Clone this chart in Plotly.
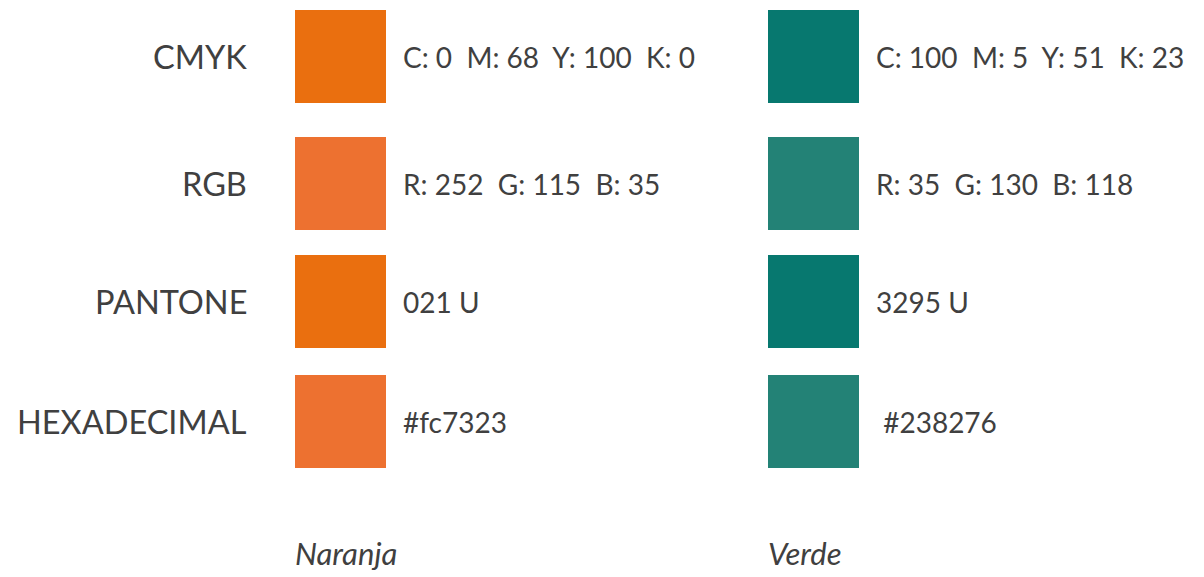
import plotly.graph_objects as go

# --- data ---
row_labels = ["CMYK", "RGB", "PANTONE", "HEXADECIMAL"]
col_names = ["Naranja", "Verde"]
swatch_colors = {
    "Naranja": ["#EA6F0F", "#ED7130", "#EA6F0F", "#ED7130"],
    "Verde": ["#07786F", "#238276", "#07786F", "#238276"],
}
value_texts = {
    "Naranja": ["C: 0  M: 68  Y: 100  K: 0", "R: 252  G: 115  B: 35", "021 U", "#fc7323"],
    "Verde": ["C: 100  M: 5  Y: 51  K: 23", "R: 35  G: 130  B: 118", "3295 U", " #238276"],
}

# --- layout constants (pixels, page coordinates) ---
W, H = 1204, 577
OFF = 8  # page body margin
row_y = [56.5, 183.5, 301.5, 421.5]
col_x0 = {"Naranja": 295, "Verde": 768}
sw_w, sw_h = 91, 93
text_dx = 106
label_x = 249
name_y = 553
txt_color = "#404040"
font = "Lato"

fig = go.Figure()
fig.add_trace(go.Scatter(x=[OFF, W], y=[OFF, H], mode="markers", marker=dict(opacity=0), hoverinfo="skip", showlegend=False))

for i, lab in enumerate(row_labels):
    fig.add_annotation(x=label_x, y=row_y[i], text=lab, showarrow=False, xanchor="right", yanchor="middle",
                       font=dict(family=font, size=32.5, color=txt_color))
    for c in col_names:
        x0 = col_x0[c]
        fig.add_shape(type="rect", x0=x0, x1=x0 + sw_w, y0=row_y[i] - sw_h / 2, y1=row_y[i] + sw_h / 2,
                      fillcolor=swatch_colors[c][i], line=dict(width=0), layer="below")
        fig.add_annotation(x=x0 + text_dx, y=row_y[i], text=value_texts[c][i].replace(" ", "&nbsp;"), showarrow=False,
                           xanchor="left", yanchor="middle", font=dict(family=font, size=28, color=txt_color))

for c in col_names:
    fig.add_annotation(x=col_x0[c] - 2, y=name_y, text="<i>" + c + "</i>", showarrow=False, xanchor="left", yanchor="middle",
                       font=dict(family=font, size=31, color=txt_color))

fig.update_layout(
    width=W, height=H, margin=dict(l=0, r=0, t=0, b=0),
    paper_bgcolor="white", plot_bgcolor="white",
    xaxis=dict(range=[OFF, W + OFF], visible=False, fixedrange=True),
    yaxis=dict(range=[H + OFF, OFF], visible=False, fixedrange=True),
)
fig.write_html("out.html")
